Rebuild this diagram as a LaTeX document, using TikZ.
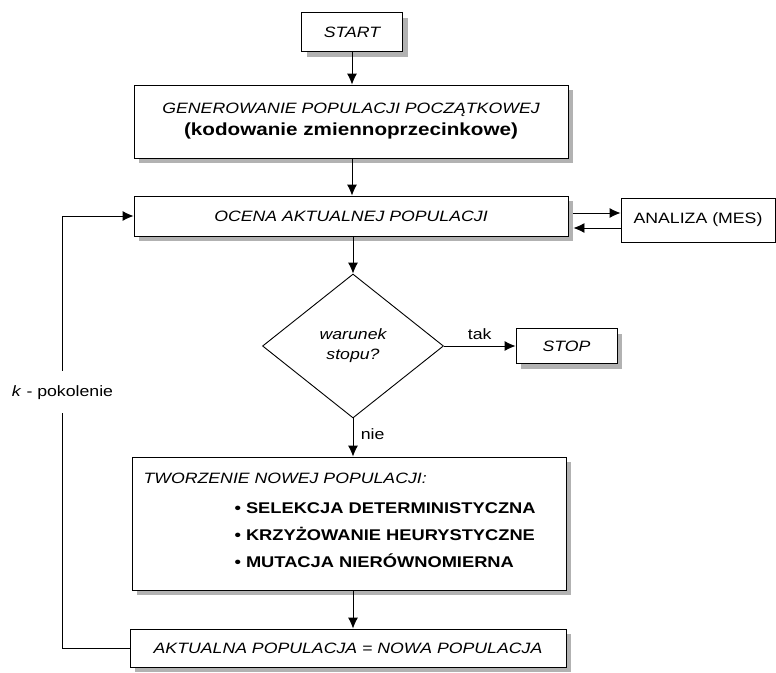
\documentclass[tikz,border=0pt]{standalone}
\usepackage{fontspec}
\setmainfont[FakeStretch=1.18]{Liberation Sans}
\usetikzlibrary{arrows.meta, shapes.geometric, shadows}

\begin{document}
\begin{tikzpicture}[x=1pt, y=-1pt,
    font=\fontsize{15}{20}\selectfont,
    blok/.style={draw, line width=0.9pt, fill=white, inner sep=0pt,
      drop shadow={shadow xshift=5pt, shadow yshift=-5pt, fill=black!60}},
    ramka/.style={draw, line width=0.9pt, fill=white, inner sep=0pt},
    strz/.style={line width=0.9pt, -{Latex[length=11pt, width=10pt]}},
    punkt/.style={anchor=base west, font=\fontsize{15.5}{20}\selectfont\bfseries}]
  \useasboundingbox (0,0) rectangle (776,672);

  % bloki glowne
  \node[blok, minimum width=101pt, minimum height=39pt, font=\fontsize{15}{20}\selectfont\itshape] (start) at (352,32) {START};
  \node[blok, minimum width=434pt, minimum height=73pt, align=center] (gen) at (351,121.5)
    {{\itshape GENEROWANIE POPULACJI POCZĄTKOWEJ}\\[2pt]
     {\fontsize{17.5}{20}\selectfont\bfseries (kodowanie zmiennoprzecinkowe)}};
  \node[blok, minimum width=434pt, minimum height=40pt, font=\fontsize{15}{20}\selectfont\itshape] (ocena) at (351,216) {OCENA AKTUALNEJ POPULACJI};
  \node[ramka, minimum width=154pt, minimum height=44pt] (mes) at (698,220) {ANALIZA (MES)};
  \node[ramka, diamond, minimum width=181pt, minimum height=144pt, align=center,
        font=\fontsize{15}{20}\selectfont\itshape] (war) at (353,346) {warunek\\stopu?};
  \node[blok, minimum width=101pt, minimum height=35pt, font=\fontsize{15}{20}\selectfont\itshape] (stop) at (566.5,346) {STOP};
  \node[blok, minimum width=434pt, minimum height=133pt] (tworz) at (349,523.5) {};
  \node[blok, minimum width=436pt, minimum height=38pt, font=\fontsize{15}{20}\selectfont\itshape] (akt) at (348,648) {AKTUALNA POPULACJA = NOWA POPULACJA};

  % tekst w bloku tworzenia
  \node[anchor=base west, font=\fontsize{15}{20}\selectfont\itshape] (tworz-t) at (140,483) {TWORZENIE NOWEJ POPULACJI:};
  \foreach \y/\txt [count=\i] in {
      513/SELEKCJA DETERMINISTYCZNA,
      540/KRZYŻOWANIE HEURYSTYCZNE,
      567/MUTACJA NIERÓWNOMIERNA
  }{
    \node[punkt] (op\i) at (231,\y) {\textbullet\ \txt};
  }

  % polaczenia
  \draw[strz] (start.south) -- (start.south |- gen.north);
  \draw[strz] (start.south |- gen.south) -- (start.south |- ocena.north);
  \draw[strz] (war.north |- ocena.south) -- (war.north);
  \draw[strz] (war.south) -- (war.south |- tworz.north) node[pos=0.4, right=4pt] {nie};
  \draw[strz] (war.south |- tworz.south) -- (war.south |- akt.north);
  \draw[strz] (war.east) -- (stop.west) node[midway, above=3pt] {tak};

  \coordinate (oe) at ([xshift=5pt]ocena.east);
  \draw[strz] ([yshift=3pt]oe) -- ([yshift=3pt]oe -| mes.west);
  \draw[strz] ([yshift=-8pt]mes.west) -- ([yshift=-8pt]mes.west -| oe);

  \draw[strz] (akt.west) -- ++(-67,0) |- node[pos=0.296, fill=white, inner xsep=2pt, inner ysep=14pt] (pok) {\textit{k} - pokolenie} (ocena.west);
\end{tikzpicture}
\end{document}
